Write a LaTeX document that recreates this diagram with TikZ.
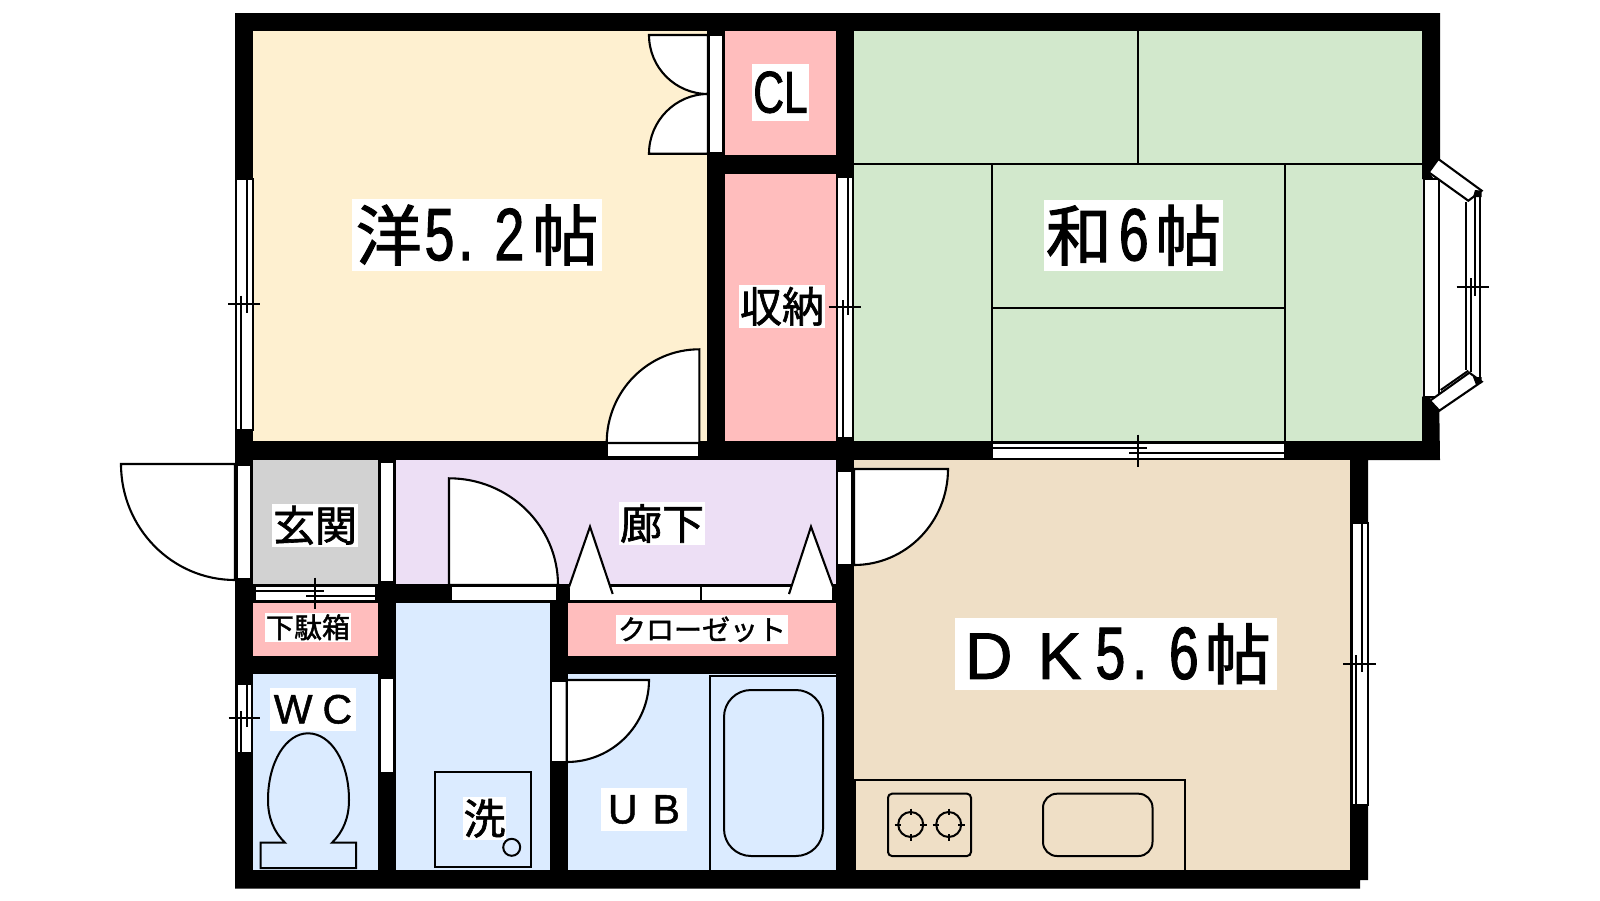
\documentclass[tikz,border=0pt]{standalone}
\usepackage{fontspec}
\setmainfont[FakeBold=1.2]{Liberation Sans}
\newfontfamily\jpfont[FakeBold=1.5]{Noto Sans CJK JP}
\newfontfamily\narrowfont[FakeStretch=0.72,FakeBold=1.5]{Liberation Sans}
\newcommand{\bignum}{\narrowfont\fontsize{74}{74}\selectfont}
\definecolor{westroom}{HTML}{FEF0D0}
\definecolor{tatami}{HTML}{D2E8CC}
\definecolor{storage}{HTML}{FFBDBD}
\definecolor{hallway}{HTML}{EDDFF5}
\definecolor{kitchen}{HTML}{EFDFC6}
\definecolor{wetroom}{HTML}{DBEBFF}
\definecolor{entrance}{HTML}{D2D2D2}
\tikzset{
  lbl/.style={fill=white,inner sep=0pt},
  bigtxt/.style={font=\jpfont\fontsize{66}{66}\selectfont},
  midtxt/.style={font=\jpfont\fontsize{42}{42}\selectfont},
  smalltxt/.style={font=\jpfont\fontsize{28}{28}\selectfont},
  latintxt/.style={font=\fontsize{41}{41}\selectfont},
  opening/.style={draw,fill=white,line width=2pt},
  leaf/.style={draw,fill=white,line width=2.1pt},
  thin line/.style={line width=1.8pt}
}

\begin{document}
\begin{tikzpicture}
  [x=1pt, y=-1pt, line width=2pt]
  \useasboundingbox (0,0) rectangle (1600,900);

  % outer shape of all walls
  \fill (235,13) -- (1440,13) -- (1440,159) -- (1438,159) -- (1428.7,172.3) -- (1434,179)
    -- (1422,179) -- (1422,396.7) -- (1431,396.7) -- (1430,400.7) -- (1439.3,410.7)
    -- (1440,460) -- (1368,460) -- (1368,880) -- (1360,880) -- (1360,888.7) -- (235,888.7) -- cycle;

  % rooms
  \fill [westroom] (253,31) rectangle (707,441);
  \fill [westroom] (699,349) rectangle (707,441);
  \fill [storage] (725,31) rectangle (836,155);
  \fill [storage] (725,174) rectangle (836,441);
  \fill [tatami] (854,31) rectangle (1422,441);
  \fill [entrance] (253,460) rectangle (378,584);
  \fill [hallway] (396,460) rectangle (836,584);
  \fill [storage] (253,602.7) rectangle (378,656);
  \fill [wetroom] (253,674) rectangle (378,870);
  \fill [wetroom] (396,602.7) rectangle (550,870);
  \fill [storage] (568,602.7) rectangle (836,656);
  \fill [wetroom] (568,674) rectangle (836,870);
  \fill [kitchen] (854,460) rectangle (1350,870);

  % tatami lines
  \draw [thin line] (1137.8,31) -- (1137.8,164);
  \draw [thin line] (854,164) -- (1422,164);
  \draw [thin line] (992,164) -- (992,441);
  \draw [thin line] (1284.7,164) -- (1284.7,441);
  \draw [thin line] (992,307.7) -- (1284.7,307.7);

  % fittings
  \draw [thin line] (855,870) -- (855,780) -- (1185,780) -- (1185,870);
  \draw [rounded corners=4pt] (888,793.7) rectangle (971,856);
  \draw [rounded corners=14pt] (1043,793.7) rectangle (1152.5,856);
  \draw (910.7,824.5) circle [radius=12.5pt];
  \draw (948.7,824.5) circle [radius=12.5pt];
  \draw (894.7,824.5) -- (901,824.5) (920.4,824.5) -- (926.7,824.5);
  \draw (910.7,808.5) -- (910.7,815) (910.7,834) -- (910.7,840.5);
  \draw (932.7,824.5) -- (939,824.5) (958.4,824.5) -- (964.7,824.5);
  \draw (948.7,808.5) -- (948.7,815) (948.7,834) -- (948.7,840.5);
  \draw [thin line] (710,870) -- (710,676) -- (836,676);
  \draw [rounded corners=27pt] (724,690) rectangle (823,856);
  \draw (435,772) rectangle (531,866.7);
  \draw (511.7,847.3) circle [radius=8.5pt];
  \draw (285,842.7) .. controls (274,832) and (268,818) .. (268,800)
    .. controls (268,762) and (286,733.3) .. (308,733.3)
    .. controls (331,733.3) and (349,762) .. (349,800)
    .. controls (349,818) and (343,832) .. (332,842.7)
    -- (356,842.7) -- (356,868) -- (260.6,868) -- (260.6,842.7) -- cycle;

  % sliding windows
  \path [opening] (236,179) rectangle (252.5,430);
  \draw (241.3,295.7) -- (241.3,430);
  \draw (246.7,179) -- (246.7,312.7);
  \draw (228.3,304.3) -- (259.7,304.3);

  \path [opening] (836.7,176.7) rectangle (852.7,438);
  \draw (843.3,300) -- (843.3,438);
  \draw (848.3,176.7) -- (848.3,315);
  \draw (828.7,307.3) -- (860.7,307.3);

  \path [opening] (992,442.7) rectangle (1284.7,458.7);
  \draw (992,448.3) -- (1147,448.3);
  \draw (1129,453.3) -- (1284.7,453.3);
  \draw (1137.8,434.7) -- (1137.8,466.7);

  \path [opening] (1351.7,522.7) rectangle (1367.7,805.3);
  \draw (1356,655) -- (1356,805.3);
  \draw (1361.7,522.7) -- (1361.7,672.3);
  \draw (1343.3,664) -- (1375.7,664);

  \path [opening] (254.5,585.7) rectangle (376,600.7);
  \draw (254.5,590.7) -- (324,590.7);
  \draw (306,595.7) -- (376,595.7);
  \draw (314.6,577.7) -- (314.6,609.3);

  \path [opening] (236.5,684) rectangle (252,752.7);
  \draw (241,711) -- (241,752.7);
  \draw (246.5,684) -- (246.5,726.7);
  \draw (228.5,718.3) -- (259.5,718.3);

  % bay window
  \path [opening] (1424,179) rectangle (1439,396.7);
  \path [leaf] (1438.3,159) -- (1481.7,190.7) -- (1468.3,200.7) -- (1428.7,172.3) -- cycle;
  \path [leaf] (1439.3,410.7) -- (1481.7,381.7) -- (1469.3,372.7) -- (1430,400.7) -- cycle;
  \fill (1475,190) -- (1481.7,190.7) -- (1481.7,197) -- (1473,197) -- cycle;
  \fill (1473,377) -- (1481.7,377) -- (1481.7,383) -- (1476,385) -- cycle;
  \draw (1440.7,390) -- (1468.3,370.7);
  \draw (1465.7,201.7) -- (1465.7,370);
  \draw (1470.7,278.3) -- (1470.7,371.7);
  \draw (1475.3,195) -- (1475.3,295.7);
  \draw (1480.3,195) -- (1480.3,378.3);
  \draw (1456.7,287) -- (1488.7,287);

  % door frames
  \path [opening] (236.5,465) rectangle (251,579);
  \path [opening] (380,462) rectangle (394,581.7);
  \path [opening] (380,678) rectangle (394,773);
  \path [opening] (709,35) rectangle (723.3,152.7);
  \path [opening] (607,443) rectangle (699,457.3);
  \path [opening] (450.5,585.7) rectangle (557,600.7);
  \path [opening] (569,586) rectangle (700.7,600.7);
  \path [opening] (700.7,586) rectangle (833,600.7);
  \path [opening] (837,470.7) rectangle (852,564.7);
  \path [opening] (550.7,680.7) rectangle (566.7,762);

  % door leaves
  \path [leaf] (235,464) -- (121,464) .. controls (121,528) and (172,580) .. (235,580) -- cycle;
  \path [leaf] (708,35) -- (649,35) .. controls (649,67.6) and (675.4,94) .. (708,94) -- cycle;
  \path [leaf] (708,153.7) -- (649,153.7) .. controls (649,121) and (675.4,94) .. (708,94) -- cycle;
  \path [leaf] (699.3,443) -- (699.3,349.3) .. controls (648,349.3) and (606.7,391.3) .. (606.7,443) -- cycle;
  \path [leaf] (449,585) -- (449,478.3) .. controls (509,478.3) and (558,526) .. (558,585) -- cycle;
  \path [leaf] (854,469) -- (948,469) .. controls (948,522) and (906,565) .. (854,565) -- cycle;
  \path [leaf] (566.7,680) -- (649,680) .. controls (649,725.3) and (612,762) .. (566.7,762) -- cycle;
  \path [leaf] (569,587) -- (590,526.7) -- (612.7,594);
  \path [leaf] (833,587) -- (811,526.7) -- (789,594);

  % labels
  \node [lbl,bigtxt,minimum width=250pt,minimum height=71.7pt] (western) at (477,235)
    {洋\hspace{3pt}{\bignum 5\hspace{4pt}.\hspace{21.5pt}2}\hspace{8pt}帖};
  \node [lbl,bigtxt,minimum width=179pt,minimum height=70.7pt] (japanese) at (1133.5,235.3)
    {和\hspace{7pt}{\bignum 6}\hspace{6.5pt}帖};
  \node [lbl,bigtxt,minimum width=321.7pt,minimum height=71.7pt] (dk) at (1115.8,653.8)
    {\hspace{4pt}{\rmfamily\fontsize{66}{66}\selectfont D\hspace{25pt}K}\hspace{14pt}{\bignum 5\hspace{7pt}.\hspace{22pt}6}\hspace{6pt}帖\hspace{-2pt}};
  \node [lbl,font=\narrowfont\fontsize{59}{59}\selectfont,minimum width=57pt,minimum height=56.7pt] (cl) at (780.5,92.3) {CL};
  \node [lbl,midtxt,minimum width=86pt,minimum height=42.7pt] (shuno) at (782,306.3) {収納};
  \node [lbl,midtxt,minimum width=86pt,minimum height=42.7pt] (genkan) at (315,525.3) {玄関};
  \node [lbl,midtxt,minimum width=86pt,minimum height=43pt] (rouka) at (662,523.5) {廊下};
  \node [lbl,smalltxt,minimum width=86pt,minimum height=28.7pt] (geta) at (308,627.3) {下駄箱};
  \node [lbl,smalltxt,minimum width=172pt,minimum height=28.7pt] (closet) at (702,629.3) {クローゼット};
  \node [lbl,latintxt,minimum width=86pt,minimum height=42.7pt] (wc) at (313,709.3) {W\hspace{10pt}C\hspace{8pt}};
  \node [lbl,latintxt,minimum width=86pt,minimum height=43pt] (ub) at (644,809.5) {U\hspace{15pt}B};
  \node [lbl,midtxt,minimum width=43pt,minimum height=42.7pt] (washer) at (484.5,818.3) {洗};
\end{tikzpicture}
\end{document}
